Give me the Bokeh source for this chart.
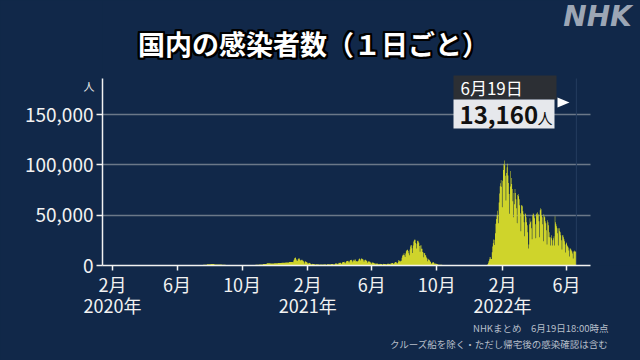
from datetime import date
from bokeh.plotting import figure
from bokeh.models import (Label, FixedTicker, PolyAnnotation, Title,
                          NumeralTickFormatter, BoxAnnotation, ColumnDataSource)
from bokeh.embed import file_html
from bokeh.resources import INLINE

# ---------------- data (daily new cases in Japan, NHK) ----------------
# weekly averages, weeks starting on Monday
weekly_2020_start = "2020-01-13"
weekly_2020 = [0, 1, 2, 1, 4, 10, 16, 25, 45, 40, 100, 230, 480, 470, 330, 190,
               70, 35, 25, 30, 40, 45, 55, 85, 190, 330, 550, 820, 1200, 1400,
               1100, 950, 750, 570, 520, 500, 460, 520, 560, 600, 600, 720, 1000,
               1500, 2150, 2100, 2250, 2550, 2800, 3000, 3500]

daily_2021_start = "2021-01-04"
daily_2021 = [
    3325, 4915, 6001, 7570, 7882, 7790, 6094,
    4876, 4537, 5875, 6605, 7133, 7014, 5759,
    4925, 5320, 5654, 5700, 4981, 4709, 3990,
    1960, 3852, 3960, 4132, 3538, 3343, 2672,
    1792, 2324, 2631, 2576, 2286, 1852, 1607,
    1049, 1569, 1720, 1571, 1404, 1359, 1325,
    733, 1246, 1311, 1085, 1230, 1194, 1076,
    752, 934, 1077, 1076, 1018, 998, 970,
    725, 890, 1194, 1075, 1145, 1063, 1065,
    598, 1128, 1313, 1317, 1285, 1310, 1064,
    1019, 1483, 1530, 1505, 1473, 1473, 1118,
    815, 1501, 1918, 2054, 1961, 2082, 1785,
    1137, 2082, 2842, 2600, 2764, 2755, 2471,
    1576, 2653, 3450, 3451, 3446, 3697, 2779,
    2121, 3455, 4311, 4576, 4532, 4802, 4093,
    2924, 4326, 5291, 5504, 5119, 5602, 4606,
    3318, 4884, 5791, 4678, 5930, 6054, 4057,
    4390, 4103, 4061, 4467, 6055, 7245, 6478,
    4908, 6212, 7056, 6892, 6267, 6418, 5210,
    3680, 5236, 5730, 5612, 5020, 4715, 4000,
    2734, 4048, 4287, 4099, 3637, 3209, 2625,
    1782, 2956, 3043, 2767, 2621, 2587, 1930,
    1326, 2233, 2102, 1860, 1931, 1812, 1388,
    934, 1505, 1752, 1585, 1608, 1493, 1296,
    836, 1428, 1691, 1603, 1599, 1605, 1249,
    885, 1545, 1755, 1812, 1810, 1709, 1542,
    1138, 1898, 2187, 2246, 2365, 2437, 1991,
    1493, 2591, 3186, 3422, 3438, 3101, 2323,
    2329, 3758, 5397, 5000, 4225, 3910, 4692,
    4689, 7631, 9576, 10694, 10743, 12342, 10184,
    8396, 12016, 14207, 15263, 15753, 15729, 14472,
    12076, 10150, 15812, 18891, 20365, 20151, 17066,
    12347, 19955, 23917, 25146, 25866, 25492, 22260,
    16828, 21604, 24309, 24984, 23983, 22748, 19291,
    13637, 20004, 20025, 16735, 16756, 13429, 12901,
    8230, 12174, 12414, 10401, 9893, 8240, 7216,
    4176, 6806, 6061, 5694, 5346, 4157, 3516,
    2221, 1781, 2634, 3229, 3586, 2658, 2126,
    1128, 1994, 1998, 1576, 1445, 1242, 1035,
]

weekly_late2021_start = "2021-10-04"
weekly_late2021 = [750, 550, 350, 280, 200, 170, 140, 100, 110, 130, 160, 230]

daily_2022_start = "2021-12-27"
daily_2022 = [
    206, 384, 502, 498, 555, 533, 552,
    782, 1265, 2638, 4475, 6214, 8480, 8249,
    6438, 6378, 13244, 18859, 22045, 25742, 25630,
    20493, 32197, 41485, 46199, 49854, 54576, 50182,
    41997, 62613, 71633, 78930, 81860, 84937, 78376,
    57850, 84225, 94929, 100912, 104420, 99751, 89159,
    64744, 91989, 97779, 101232, 89478, 82012, 71010,
    51542, 78604, 94000, 87000, 81000, 76000, 64000,
    48000, 72000, 61000, 76000, 72000, 66000, 57000,
    42000, 70000, 71000, 69000, 66000, 60000, 52000,
    34000, 60000, 60000, 59000, 54000, 51000, 43000,
    29000, 52000, 51000, 48000, 43000, 40000, 33000,
    17000, 21000, 41000, 47000, 43000, 44000, 37000,
    26000, 50000, 52000, 51000, 49000, 47000, 41000,
    27000, 51000, 52000, 53000, 50000, 51000, 44000,
    28000, 55000, 57000, 56000, 50000, 48000, 41000,
    24000, 51000, 49000, 48000, 44000, 42000, 35000,
    21000, 45000, 43000, 40000, 28000, 33000, 28000,
    20000, 30000, 27000, 20000, 25000, 27000, 29000,
    20000, 49000, 43000, 41000, 39000, 37000, 32000,
    20000, 37000, 37000, 34000, 33000, 30000, 25000,
    16000, 30000, 30000, 28000, 26000, 24000, 21000,
    13000, 23000, 22000, 20000, 19000, 18000, 15000,
    9000, 17000, 17000, 16000, 15000, 14000, 12000,
    7000, 14000, 15000, 14000, 14000, 14000, 13160,
]

tick_dates = ["2020-02-01", "2020-06-01", "2020-10-01", "2021-02-01",
              "2021-06-01", "2021-10-01", "2022-02-01", "2022-06-01"]
month_labels = ["2月", "6月", "10月", "2月", "6月", "10月", "2月", "6月"]
year_labels = ["2020年", "", "", "2021年", "", "", "2022年", ""]
y_ticks = [0, 50000, 100000, 150000]

title_text = "国内の感染者数（１日ごと）"
latest_label = "6月19日"
latest_value = "13,160"
note_1 = "NHKまとめ　6月19日18:00時点"
note_2 = "クルーズ船を除く・ただし帰宅後の感染確認は含む"

# ---------------- helpers ----------------
ORIGIN = date(2020, 1, 1)


def day(s):
    return (date.fromisoformat(s) - ORIGIN).days


xs, ys = [], []
for start, step, vals in [(weekly_2020_start, 7, weekly_2020),
                          (daily_2021_start, 1, daily_2021),
                          (weekly_late2021_start, 7, weekly_late2021),
                          (daily_2022_start, 1, daily_2022)]:
    d0 = day(start)
    for i, v in enumerate(vals):
        xs.append(d0 + i * step)
        ys.append(v)
last_day = xs[-1]
xs.append(last_day + 1)
ys.append(ys[-1])

BG = "#112849"
YEL = "#cfd42b"
FG = "#f2f2f2"
FONT = "Noto Sans CJK JP"

W, H = 640, 360
PX_PER_DAY = 488 / 914.7
PX_PER_CASE = 186 / 185000
FL, FB = 102, 265              # frame left / bottom (page px)
AX_RIGHT, AX_TOP = 590, 78     # visible end of axes / grid (page px)
X0 = 12.3
X1 = X0 + (W - FL) / PX_PER_DAY
Y0 = 0
Y1 = FB / PX_PER_CASE


def px_x(X):
    return X0 + (X - FL) / PX_PER_DAY


def px_y(Y):
    return (FB - Y) / PX_PER_CASE


p = figure(width=W, height=H, x_range=(X0, X1), y_range=(Y0, Y1),
           output_backend="svg", toolbar_location=None,
           min_border_left=FL, min_border_right=0,
           min_border_top=0, min_border_bottom=H - FB,
           background_fill_color=BG, border_fill_color=BG,
           outline_line_color=None)

src = ColumnDataSource(dict(x=xs, y=ys))
p.varea_step(x="x", y1=0, y2="y", step_mode="after", source=src,
             fill_color=YEL)

# grid (limited to the axis extent)
p.xgrid.grid_line_color = None
grid = p.ygrid[0]
grid.ticker = FixedTicker(ticks=y_ticks)
if "cross_bounds" in grid.properties():
    grid.cross_bounds = (X0, px_x(AX_RIGHT))
    grid.grid_line_color = "#6b7889"
    grid.grid_line_width = 1.5
else:
    grid.grid_line_color = None
    p.segment(x0=X0, x1=px_x(AX_RIGHT), y0=y_ticks[1:], y1=y_ticks[1:],
              line_color="#6b7889", line_width=1.5)

# y axis
p.yaxis.bounds = (0, px_y(AX_TOP))
p.yaxis.ticker = FixedTicker(ticks=y_ticks)
p.yaxis.formatter = NumeralTickFormatter(format="0,0")
p.yaxis.major_label_text_color = FG
p.yaxis.major_label_text_font = FONT
p.yaxis.major_label_text_font_size = "19px"
p.yaxis.axis_line_color = FG
p.yaxis.axis_line_width = 1.5
p.yaxis.major_tick_line_color = FG
p.yaxis.major_tick_line_width = 1.5
p.yaxis.major_tick_out = 6
p.yaxis.major_tick_in = 0
p.yaxis.minor_tick_line_color = None
p.yaxis.major_label_standoff = 3

# x axis (month + year in two-line tick labels)
tick_days = [day(s) for s in tick_dates]
p.xaxis.bounds = (X0, px_x(AX_RIGHT))
p.xaxis.ticker = FixedTicker(ticks=tick_days)
p.xaxis.major_label_overrides = {
    d: (m + "\n" + y if y else m)
    for d, m, y in zip(tick_days, month_labels, year_labels)}
p.xaxis.major_label_text_color = FG
p.xaxis.major_label_text_font = FONT
p.xaxis.major_label_text_font_size = "18px"
p.xaxis.major_label_text_line_height = 0.82
p.xaxis.axis_line_color = FG
p.xaxis.axis_line_width = 1.5
p.xaxis.major_tick_line_color = FG
p.xaxis.major_tick_line_width = 1.5
p.xaxis.major_tick_out = 5
p.xaxis.major_tick_in = 0
p.xaxis.minor_tick_line_color = None
p.xaxis.major_label_standoff = 0

# unit label, in the left side panel so it is not clipped
p.add_layout(Label(x=px_x(94), y=px_y(85), text="人",
                   text_align="right", text_baseline="middle",
                   text_color="#e8e8e8", text_font=FONT,
                   text_font_size="11px"), "left")

# latest date marker line
p.segment(x0=last_day + 0.5, x1=last_day + 0.5, y0=0, y1=px_y(AX_TOP),
          line_color="#253d5e", line_width=1)

# callout boxes
p.add_layout(BoxAnnotation(left=px_x(453), right=px_x(556), top=px_y(75),
                           bottom=px_y(99), fill_color="#2c2f34", fill_alpha=1,
                           line_color=None))
p.add_layout(BoxAnnotation(left=px_x(453), right=px_x(554), top=px_y(99),
                           bottom=px_y(128), fill_color="#e6e8ec", fill_alpha=1,
                           line_color=None))
p.add_layout(PolyAnnotation(xs=[px_x(557), px_x(569), px_x(557)],
                            ys=[px_y(97), px_y(102), px_y(107)],
                            fill_color="white", fill_alpha=1, line_color=None))
p.add_layout(Label(x=px_x(460), y=px_y(87), text=latest_label,
                   text_align="left", text_baseline="middle",
                   text_color="white", text_font=FONT, text_font_size="17px"))
p.add_layout(Label(x=px_x(459), y=px_y(114), text=latest_value,
                   text_align="left", text_baseline="middle",
                   text_color="#111111", text_font=FONT,
                   text_font_size="24px", text_font_style="bold"))
p.add_layout(Label(x=px_x(537), y=px_y(117), text="人",
                   text_align="left", text_baseline="middle",
                   text_color="#111111", text_font=FONT,
                   text_font_size="15px"))

# title with black outline
for dx in (-2, -1, 0, 1, 2):
    for dy in (-2, -1, 0, 1, 2):
        if dx == 0 and dy == 0:
            continue
        p.add_layout(Label(x=px_x(313), y=px_y(43), text=title_text,
                           text_align="center", text_baseline="middle",
                           text_color="black", text_font=FONT,
                           text_font_size="27px", text_font_style="bold",
                           x_offset=dx, y_offset=dy))
p.add_layout(Label(x=px_x(313), y=px_y(43), text=title_text,
                   text_align="center", text_baseline="middle",
                   text_color="white", text_font=FONT,
                   text_font_size="27px", text_font_style="bold"))

# logo
p.add_layout(Label(x=px_x(597), y=px_y(16), text="NHK", text_align="center",
                   text_baseline="middle", text_color="#9ca6b5",
                   text_font="DejaVu Sans", text_font_size="28px",
                   text_font_style="bold italic"))

# source notes (below the axis), one right-aligned title per line
for note in (note_1, note_2):
    p.add_layout(Title(text=note, align="right", offset=W - 608, standoff=0,
                       vertical_align="top",
                       text_color="#b7bfca", text_font=FONT,
                       text_font_size="9.5px", text_font_style="normal"),
                 "below")

html = file_html(p, INLINE, title="国内の感染者数")
html = html.replace("</head>", "<style>html,body{background:%s;}</style></head>" % BG, 1)
open("out.html", "w").write(html)
